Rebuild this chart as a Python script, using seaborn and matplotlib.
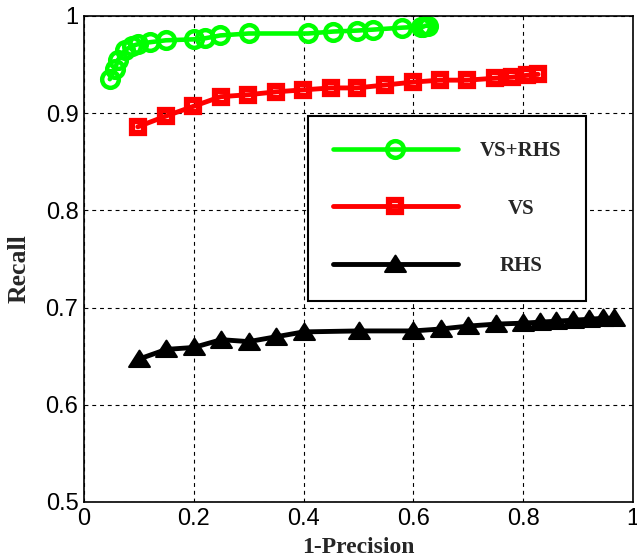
import numpy as np
import pandas as pd
import matplotlib
matplotlib.use("Agg")
import matplotlib.pyplot as plt
import seaborn as sns
from matplotlib.font_manager import FontProperties
from matplotlib.path import Path

# ---- data ----
vsrhs_x = [0.047, 0.056, 0.062, 0.075, 0.087, 0.098, 0.12, 0.149, 0.20, 0.22, 0.248,
           0.30, 0.408, 0.454, 0.497, 0.527, 0.579, 0.614, 0.618, 0.622, 0.626]
vsrhs_y = [0.935, 0.945, 0.955, 0.965, 0.969, 0.971, 0.973, 0.975, 0.976, 0.977, 0.980,
           0.982, 0.982, 0.984, 0.985, 0.986, 0.988, 0.989, 0.989, 0.990, 0.990]

vs_x = [0.098, 0.149, 0.199, 0.249, 0.299, 0.35, 0.399, 0.45, 0.497, 0.548, 0.60,
        0.648, 0.698, 0.749, 0.78, 0.807, 0.827]
vs_y = [0.886, 0.897, 0.907, 0.917, 0.919, 0.922, 0.924, 0.926, 0.926, 0.929, 0.932,
        0.934, 0.934, 0.936, 0.937, 0.939, 0.940]

rhs_x = [0.10, 0.15, 0.20, 0.25, 0.30, 0.35, 0.40, 0.50, 0.60, 0.65, 0.70, 0.75,
         0.80, 0.83, 0.86, 0.89, 0.92, 0.945, 0.965]
rhs_y = [0.647, 0.657, 0.659, 0.667, 0.665, 0.670, 0.675, 0.676, 0.676, 0.678, 0.681,
         0.683, 0.684, 0.685, 0.686, 0.687, 0.688, 0.689, 0.689]

labels = ["VS+RHS", "VS", "RHS"]
x_ticks = [0, 0.2, 0.4, 0.6, 0.8, 1]
x_ticklabels = ["0", "0.2", "0.4", "0.6", "0.8", "1"]
y_ticks = [0.5, 0.6, 0.7, 0.8, 0.9, 1]
y_ticklabels = ["0.5", "0.6", "0.7", "0.8", "0.9", "1"]

sns.set_style("white")
plt.rcParams["font.family"] = ["Liberation Sans", "DejaVu Sans"]

fig = plt.figure(figsize=(6.37, 5.6), dpi=100)
ax = fig.add_axes([84 / 637, 1 - 502 / 560, 549 / 637, 486 / 560])

df_g = pd.DataFrame({"x": vsrhs_x, "y": vsrhs_y})
df_r = pd.DataFrame({"x": vs_x, "y": vs_y})
df_k = pd.DataFrame({"x": rhs_x, "y": rhs_y})

tri = Path([(-1, -0.72), (1, -0.72), (0, 0.85), (-1, -0.72)], closed=True)

sns.lineplot(data=df_g, x="x", y="y", ax=ax, estimator=None, sort=False,
             color=(0, 1, 0), linewidth=3.3, marker="o", markersize=12,
             markerfacecolor="none", markeredgecolor=(0, 1, 0), markeredgewidth=3.2,
             label=labels[0])
sns.lineplot(data=df_r, x="x", y="y", ax=ax, estimator=None, sort=False,
             color=(1, 0, 0), linewidth=3.5, marker="s", markersize=8.5,
             markerfacecolor="none", markeredgecolor=(1, 0, 0), markeredgewidth=4.5,
             label=labels[1])
sns.lineplot(data=df_k, x="x", y="y", ax=ax, estimator=None, sort=False,
             color="black", linewidth=3.5, marker=tri, markersize=15,
             markerfacecolor="black", markeredgecolor="black", markeredgewidth=1.5,
             label=labels[2])

ax.set_xlim(0, 1)
ax.set_ylim(0.5, 1)
ax.set_xticks(x_ticks)
ax.set_xticklabels(x_ticklabels)
ax.set_yticks(y_ticks)
ax.set_yticklabels(y_ticklabels)
ax.tick_params(direction="in", length=5, width=1, labelsize=17, pad=4,
               colors="black", top=False, right=False)
ax.grid(True, color="black", linewidth=0.8, linestyle=(0, (3.5, 3.5)))
for s in ax.spines.values():
    s.set_color("black")
    s.set_linewidth(1.2)

ax.set_xlabel("1-Precision",
              fontproperties=FontProperties(family="Liberation Serif", weight="bold", size=17))
ax.set_ylabel("Recall",
              fontproperties=FontProperties(family="Liberation Serif", weight="bold", size=18.5))
ax.xaxis.set_label_coords(0.499, -0.072)
ax.yaxis.set_label_coords(-0.098, 0.48)

handles, labs = ax.get_legend_handles_labels()
leg = ax.legend(handles, labs, loc="upper left", bbox_to_anchor=(0.408, 0.794),
                borderaxespad=0, numpoints=1,
                prop=FontProperties(family="Liberation Serif", weight="bold", size=15),
                handlelength=6.0, handletextpad=1.05, borderpad=1.2, labelspacing=1.8,
                frameon=True, fancybox=False, edgecolor="black", framealpha=1)
leg.get_frame().set_linewidth(1.5)

fig.canvas.draw()
texts = leg.get_texts()
widths = [t.get_window_extent().width for t in texts]
mw = max(widths)
for t, w in zip(texts, widths):
    t.set_position(((mw - w) / 2, 0))

fig.savefig("out.png", dpi=100)
